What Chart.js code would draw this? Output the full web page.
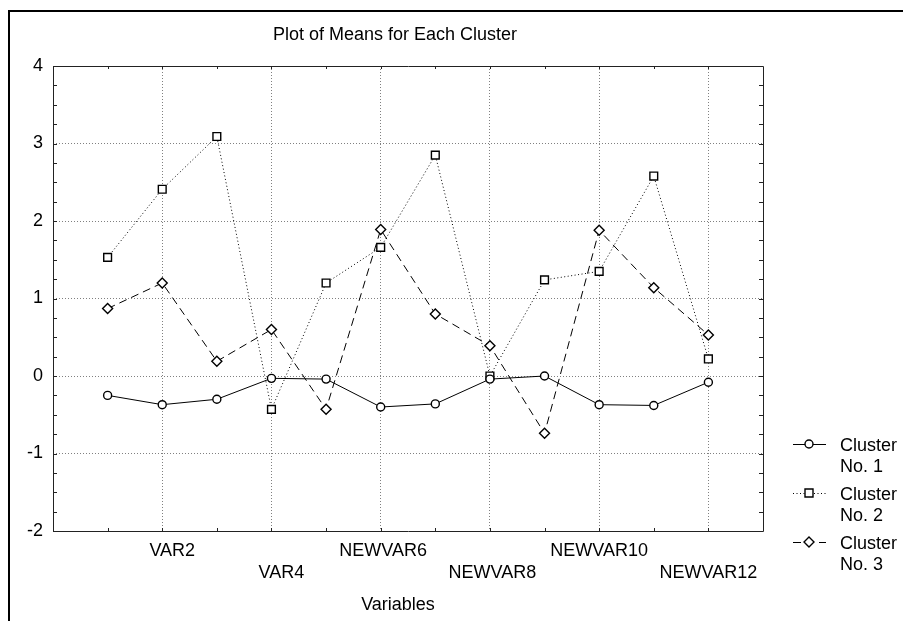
<!DOCTYPE html>
<html>
<head>
<meta charset="utf-8">
<title>Plot of Means for Each Cluster</title>
<script src="https://cdn.jsdelivr.net/npm/chart.js@4.4.0/dist/chart.umd.min.js"></script>
<style>
  html, body { margin: 0; padding: 0; background: #fff; }
  #wrap { width: 903px; height: 621px; position: relative; }
</style>
</head>
<body>
<div id="wrap"><canvas id="c" width="903" height="621"></canvas></div>
<script>
// Variables on the horizontal axis
const categories = ['VAR1', 'VAR2', 'VAR3', 'VAR4', 'NEWVAR5', 'NEWVAR6',
                    'NEWVAR7', 'NEWVAR8', 'NEWVAR9', 'NEWVAR10', 'NEWVAR11', 'NEWVAR12'];
// Cluster means per variable
const cluster1 = [-0.25, -0.37, -0.30, -0.03, -0.04, -0.40, -0.36, -0.04, 0.00, -0.37, -0.38, -0.08];
const cluster2 = [1.53, 2.41, 3.09, -0.43, 1.20, 1.66, 2.85, 0.00, 1.24, 1.35, 2.58, 0.22];
const cluster3 = [0.87, 1.20, 0.19, 0.60, -0.43, 1.89, 0.80, 0.39, -0.74, 1.88, 1.14, 0.53];
const seriesNames = ['Cluster No. 1', 'Cluster No. 2', 'Cluster No. 3'];
const yTicks = [-2, -1, 0, 1, 2, 3, 4];

const FONT = '"Liberation Sans", Arial, sans-serif';

function toPoints(values) {
  return values.map((v, i) => ({ x: i + 1, y: v }));
}

const styles = [
  { borderDash: [], pointStyle: 'circle', pointRadius: 4 },
  { borderDash: [1, 2.5], pointStyle: 'rect', pointRadius: 5.5 },
  { borderDash: [8, 5], pointStyle: 'rectRot', pointRadius: 5 }
];

const datasets = [cluster1, cluster2, cluster3].map((vals, k) => ({
  label: seriesNames[k],
  data: toPoints(vals),
  borderColor: '#000',
  borderWidth: 1,
  borderDash: styles[k].borderDash,
  pointStyle: styles[k].pointStyle,
  pointRadius: styles[k].pointRadius,
  pointHoverRadius: styles[k].pointRadius,
  pointBackgroundColor: '#fff',
  pointBorderColor: '#000',
  pointBorderWidth: 1.4,
  tension: 0,
  fill: false
}));

// Frame, inner tick marks, title, axis title and legend
const decorations = {
  id: 'decorations',
  beforeDraw(chart) {
    const ctx = chart.ctx;
    ctx.save();
    ctx.fillStyle = '#fff';
    ctx.fillRect(0, 0, chart.width, chart.height);
    ctx.strokeStyle = '#000';
    ctx.lineWidth = 2;
    ctx.beginPath();
    ctx.moveTo(9, chart.height);
    ctx.lineTo(9, 11);
    ctx.lineTo(chart.width, 11);
    ctx.stroke();
    ctx.restore();
  },
  beforeDatasetsDraw(chart) {
    const ctx = chart.ctx;
    const a = chart.chartArea;
    const xs = chart.scales.x, ys = chart.scales.y;
    ctx.save();
    ctx.setLineDash([]);
    ctx.lineWidth = 1;
    ctx.strokeStyle = '#222';
    // plot box
    ctx.beginPath();
    ctx.moveTo(Math.round(a.left) + 0.5, Math.round(a.bottom) + 0.5);
    ctx.lineTo(Math.round(a.left) + 0.5, Math.round(a.top) + 0.5);
    ctx.lineTo(Math.round(a.right) + 0.5, Math.round(a.top) + 0.5);
    ctx.lineTo(Math.round(a.right) + 0.5, Math.round(a.bottom) + 0.5);
    ctx.closePath();
    ctx.stroke();
    // minor ticks on the value axes
    ctx.beginPath();
    for (let v = yTicks[0]; v <= yTicks[yTicks.length - 1]; v += 0.25) {
      const y = Math.round(ys.getPixelForValue(v)) + 0.5;
      ctx.moveTo(a.left, y); ctx.lineTo(a.left + 4, y);
      ctx.moveTo(a.right, y); ctx.lineTo(a.right - 4, y);
    }
    // category ticks on top and bottom
    for (let i = 1; i <= categories.length; i++) {
      const x = Math.round(xs.getPixelForValue(i)) + 0.5;
      ctx.moveTo(x, a.top); ctx.lineTo(x, a.top + 3);
      ctx.moveTo(x, a.bottom); ctx.lineTo(x, a.bottom - 3);
    }
    ctx.stroke();
    ctx.restore();
  },
  afterDraw(chart) {
    const ctx = chart.ctx;
    ctx.save();
    ctx.fillStyle = '#000';
    ctx.font = '18px ' + FONT;
    ctx.textAlign = 'center';
    ctx.textBaseline = 'middle';
    ctx.fillText('Plot of Means for Each Cluster', 395, 35);
    ctx.fillText('Variables', 398, 605);

    // legend
    chart.data.datasets.forEach((ds, k) => {
      const y = 444 + k * 49;
      ctx.save();
      ctx.strokeStyle = '#000';
      ctx.lineWidth = 1;
      ctx.setLineDash(ds.borderDash || []);
      ctx.beginPath();
      ctx.moveTo(793, y + 0.5);
      ctx.lineTo(826, y + 0.5);
      ctx.stroke();
      ctx.setLineDash([]);
      ctx.fillStyle = '#fff';
      ctx.lineWidth = 1.4;
      const mx = 809;
      ctx.beginPath();
      if (ds.pointStyle === 'circle') {
        ctx.arc(mx, y, 4, 0, Math.PI * 2);
      } else if (ds.pointStyle === 'rect') {
        ctx.rect(mx - 4, y - 4, 8, 8);
      } else {
        ctx.moveTo(mx, y - 5); ctx.lineTo(mx + 5, y); ctx.lineTo(mx, y + 5); ctx.lineTo(mx - 5, y); ctx.closePath();
      }
      ctx.fill();
      ctx.stroke();
      ctx.restore();
      const lines = ds.label.replace(' No.', '\nNo.').split('\n');
      ctx.textAlign = 'left';
      ctx.fillStyle = '#000';
      ctx.fillText(lines[0], 840, y + 2);
      ctx.fillText(lines[1], 840, y + 23);
    });
    ctx.restore();
  }
};

new Chart(document.getElementById('c'), {
  type: 'line',
  data: { datasets },
  plugins: [decorations],
  options: {
    responsive: false,
    animation: false,
    events: [],
    layout: { padding: { top: 66, right: 140, bottom: 0, left: 0 } },
    plugins: {
      legend: { display: false },
      title: { display: false },
      tooltip: { enabled: false }
    },
    scales: {
      x: {
        type: 'linear',
        min: 0,
        max: categories.length + 1,
        afterFit(scale) { scale.height = 90; },
        afterBuildTicks(scale) {
          scale.ticks = [];
          for (let i = 0; i <= categories.length + 1; i++) scale.ticks.push({ value: i });
        },
        grid: {
          drawTicks: false,
          lineWidth: 1,
          color(ctx) {
            const v = ctx.tick && ctx.tick.value;
            return (v >= 2 && v <= categories.length && v % 2 === 0) ? '#808080' : 'rgba(0,0,0,0)';
          }
        },
        border: { display: false, dash: [1, 2] },
        ticks: {
          autoSkip: false,
          maxRotation: 0,
          minRotation: 0,
          padding: 9,
          color: '#000',
          font: { family: FONT, size: 18, lineHeight: 22 / 18 },
          callback(value) {
            const i = value - 1;
            if (i < 1 || i >= categories.length || i % 2 !== 1) return '';
            // names sit right-aligned in an 8-character field
            const name = categories[i].padStart(8, ' ');
            return ((i - 1) / 2) % 2 === 0 ? [name, ''] : ['', name];
          }
        }
      },
      y: {
        min: yTicks[0],
        max: yTicks[yTicks.length - 1],
        afterFit(scale) { scale.width = 53; },
        grid: {
          drawTicks: false,
          lineWidth: 1,
          color(ctx) {
            const v = ctx.tick && ctx.tick.value;
            return (v > yTicks[0] && v < yTicks[yTicks.length - 1]) ? '#808080' : 'rgba(0,0,0,0)';
          }
        },
        border: { display: false, dash: [1, 2] },
        ticks: {
          stepSize: 1,
          padding: 10,
          color: '#000',
          font: { family: FONT, size: 18 }
        }
      }
    }
  }
});
</script>
</body>
</html>
